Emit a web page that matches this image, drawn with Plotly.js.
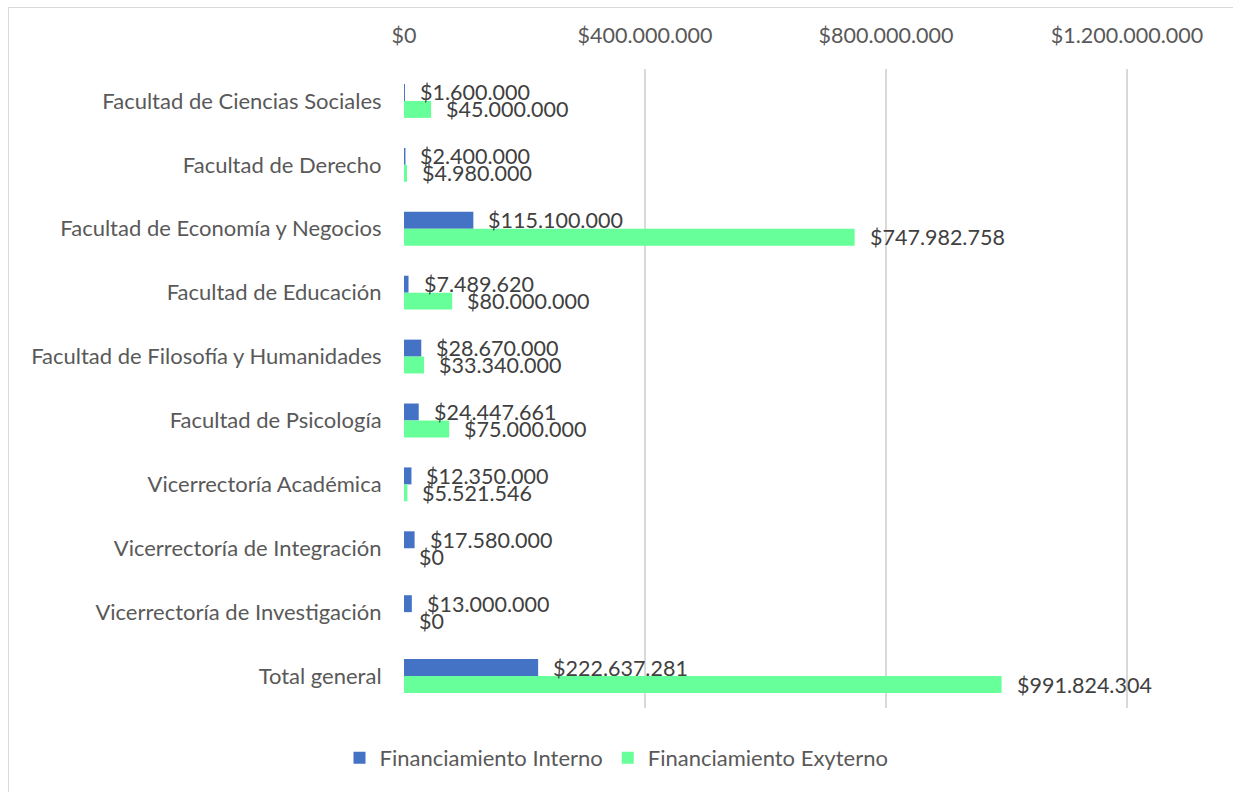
<!DOCTYPE html>
<html>
<head>
<meta charset="utf-8">
<script src="https://cdn.plot.ly/plotly-3.0.1.min.js"></script>
<style>
  html, body { margin: 0; padding: 0; background: #fff; }
  #chart { width: 1233px; height: 792px; position: relative; }
  #frame {
    position: absolute; left: 8px; top: 7px; width: 1240px; height: 800px;
    border: 1.5px solid #d9d9d9; pointer-events: none; box-sizing: border-box;
  }
</style>
</head>
<body>
<div id="chart"></div>
<div id="frame"></div>
<script>
  const categories = [
    "Facultad de Ciencias Sociales",
    "Facultad de Derecho",
    "Facultad de Economía y Negocios",
    "Facultad de Educación",
    "Facultad de Filosofía y Humanidades",
    "Facultad de Psicología",
    "Vicerrectoría Académica",
    "Vicerrectoría de Integración",
    "Vicerrectoría de Investigación",
    "Total general",
  ];
  const interno = [1600000, 2400000, 115100000, 7489620, 28670000, 24447661, 12350000, 17580000, 13000000, 222637281];
  const externo = [45000000, 4980000, 747982758, 80000000, 33340000, 75000000, 5521546, 0, 0, 991824304];
  const seriesNames = ["Financiamiento Interno", "Financiamiento Exyterno"];
  const tickValues = [0, 400000000, 800000000, 1200000000];

  const font = "Lato, 'Open Sans', sans-serif";

  function money(v) {
    return "$" + String(Math.round(v)).replace(/\B(?=(\d{3})+(?!\d))/g, ".");
  }

  const traces = [
    { name: seriesNames[0], x: interno, color: "#4472C4" },
    { name: seriesNames[1], x: externo, color: "#66FF99" },
  ].map((s) => ({
    type: "bar",
    orientation: "h",
    name: s.name,
    x: s.x,
    y: categories,
    marker: { color: s.color },
    hoverinfo: "skip",
  }));

  // data labels sit a little right of each bar end, centred on their own bar
  const labels = [];
  [interno, externo].forEach((vals, k) => {
    vals.forEach((v, i) => {
      labels.push({
        x: v,
        y: categories[i],
        text: money(v),
        showarrow: false,
        xanchor: "left",
        yanchor: "middle",
        xshift: 13,
        yshift: k === 0 ? 8.5 : -8.5,
        font: { family: font, size: 21.5, color: "#404040" },
      });
    });
  });

  // a hair past the last tick so its gridline is still drawn
  const xMax = tickValues[tickValues.length - 1] * (726 / 723);

  const layout = {
    width: 1233,
    height: 792,
    margin: { l: 404, r: 103, t: 69, b: 84 },
    paper_bgcolor: "#fff",
    plot_bgcolor: "#fff",
    barmode: "group",
    bargap: 0.47,
    bargroupgap: 0,
    font: { family: font, color: "#595959" },
    xaxis: {
      side: "top",
      range: [0, xMax],
      tickvals: tickValues,
      ticktext: tickValues.map(money),
      tickfont: { size: 21.5, color: "#595959" },
      ticks: "outside",
      ticklen: 16,
      tickcolor: "rgba(0,0,0,0)",
      showgrid: true,
      gridcolor: "#d9d9d9",
      gridwidth: 1.5,
      zeroline: false,
      showline: false,
      fixedrange: true,
    },
    yaxis: {
      type: "category",
      autorange: "reversed",
      tickfont: { size: 22, color: "#595959" },
      ticks: "outside",
      ticklen: 17,
      tickcolor: "rgba(0,0,0,0)",
      showgrid: false,
      zeroline: false,
      showline: false,
      fixedrange: true,
    },
    showlegend: true,
    legend: {
      orientation: "h",
      xref: "container",
      yref: "container",
      x: 0.5,
      xanchor: "center",
      y: 0.043,
      yanchor: "middle",
      font: { size: 22, color: "#595959" },
      traceorder: "normal",
      itemwidth: 30,
    },
    annotations: labels,
  };

  Plotly.newPlot("chart", traces, layout, { displayModeBar: false, staticPlot: true });
</script>
</body>
</html>
